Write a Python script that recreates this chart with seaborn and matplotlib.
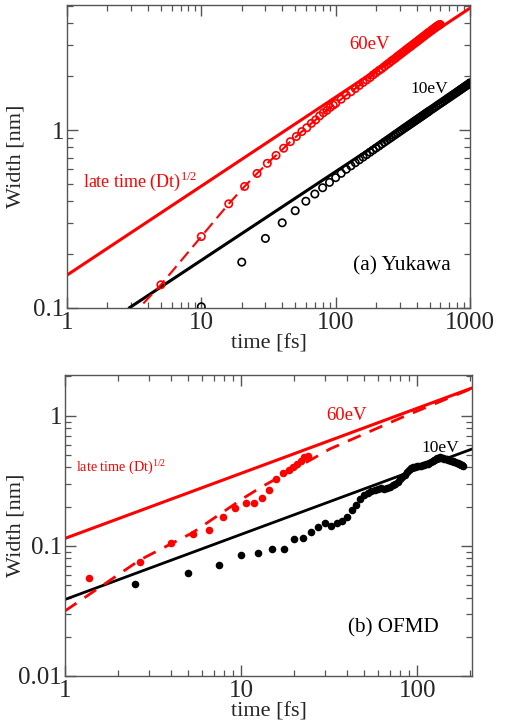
import numpy as np
import matplotlib
matplotlib.use('Agg')
import matplotlib.pyplot as plt
import matplotlib.ticker as mticker
import seaborn as sns

# --- panel (a) Yukawa ---
yuk_fit60_t = [1, 1000]
yuk_fit60_w = [0.153, 4.84]
yuk_fit10_t = [2.9, 1000]
yuk_fit10_w = [0.1, 1.84]

yuk60_t = [5, 10, 16, 21, 26, 31, 36, 41, 46, 51, 56, 61, 66, 71, 76, 81, 86, 91, 96,
           100, 110, 120, 130, 140, 150, 160, 170, 180, 190, 200, 210, 220, 230, 240,
           250, 260, 270, 280, 290, 300, 310, 320, 330, 340, 350, 360, 370, 380, 390,
           400, 410, 420, 430, 440, 450, 460, 470, 480, 490, 500, 510, 520, 530, 540,
           550, 560, 570, 580, 590, 600]
yuk60_w = [0.135, 0.252, 0.385, 0.482, 0.57, 0.65, 0.72, 0.79, 0.86, 0.92, 0.98, 1.03,
           1.09, 1.14, 1.20, 1.25, 1.29, 1.34, 1.38,
           1.41, 1.49, 1.57, 1.64, 1.71, 1.78, 1.85, 1.91, 1.97, 2.04, 2.10, 2.16, 2.21,
           2.27, 2.33, 2.38, 2.44, 2.49, 2.54, 2.60, 2.65, 2.70, 2.75, 2.80, 2.85, 2.90,
           2.94, 2.99, 3.04, 3.08, 3.13, 3.17, 3.22, 3.26, 3.31, 3.35, 3.39, 3.44, 3.48,
           3.52, 3.56, 3.60, 3.64, 3.68, 3.72, 3.76, 3.80, 3.83, 3.87, 3.90, 3.92]
yuk60_start_t = [3.7]
yuk60_start_w = [0.106]

yuk10_t = [10, 20, 30, 40, 50, 60, 70, 80, 90, 100, 110, 120, 130, 140, 150, 160, 170,
           180, 190, 200, 210, 220, 230, 240, 250, 260, 270, 280, 290, 300, 310, 320,
           330, 340, 350, 360, 370, 380, 390, 400, 410, 420, 430, 440, 450, 460, 470,
           480, 490, 500, 520, 540, 560, 580, 600, 620, 640, 660, 680, 700, 720, 740,
           760, 780, 800, 820, 840, 860, 880, 900, 920, 940, 960, 980, 1000]
yuk10_w = [0.1016, 0.181, 0.246, 0.301, 0.352, 0.398, 0.437, 0.474, 0.508, 0.540, 0.571,
           0.602, 0.629, 0.655, 0.680, 0.704, 0.727, 0.750, 0.772, 0.793, 0.813, 0.834,
           0.854, 0.873, 0.892, 0.910, 0.929, 0.947, 0.964, 0.982, 0.999, 1.016, 1.032,
           1.048, 1.064, 1.080, 1.095, 1.111, 1.126, 1.141, 1.155, 1.170, 1.184, 1.199,
           1.213, 1.227, 1.241, 1.255, 1.268, 1.282, 1.308, 1.333, 1.359, 1.384, 1.408,
           1.432, 1.455, 1.479, 1.502, 1.525, 1.547, 1.569, 1.591, 1.612, 1.634, 1.655,
           1.676, 1.697, 1.717, 1.737, 1.757, 1.777, 1.797, 1.817, 1.84]

# --- panel (b) OFMD ---
ofmd_fit60_t = [1, 205]
ofmd_fit60_w = [0.114, 1.63]
ofmd_fit10_t = [1, 205]
ofmd_fit10_w = [0.0387, 0.554]
ofmd_dash60_t = [1, 2.67, 5.3, 10.3, 13.1, 25.8, 32, 83.6, 205]
ofmd_dash60_w = [0.0316, 0.078, 0.126, 0.232, 0.284, 0.47, 0.555, 0.98, 1.62]

ofmd60_t = [1.36, 2.67, 3.98, 5.32, 6.6, 7.94, 9.25, 10.7, 11.9, 13.2, 14.5, 15.8, 17.3,
            18.6, 19.8, 20.7, 21.8, 22.8, 23.9]
ofmd60_w = [0.0567, 0.0753, 0.1054, 0.123, 0.132, 0.165, 0.194, 0.212, 0.214, 0.234,
            0.268, 0.326, 0.36, 0.382, 0.405, 0.425, 0.449, 0.479, 0.49]

ofmd10_t = [2.5, 5, 7.5, 10, 12.5, 15, 17.5, 20, 22.5, 25, 27.5, 30, 32.5, 35, 37.5, 40,
            42.5, 45, 47.5, 50, 52.5, 55, 57.5, 60, 62.5, 65, 67.5, 70, 72.5, 75, 77.5,
            80, 82.5, 85, 87.5, 90, 92.5, 95, 97.5, 100, 102.5, 105, 107.5, 110, 112.5,
            115, 117.5, 120, 122.5, 125, 127.5, 130, 132.5, 135, 137.5, 140, 142.5, 145,
            147.5, 150, 152.5, 155, 157.5, 160, 162.5, 165, 167.5, 170, 172.5, 175, 177.5,
            180, 182.5]
ofmd10_w = [0.051, 0.062, 0.071, 0.085, 0.088, 0.094, 0.094, 0.113, 0.114, 0.127, 0.140,
            0.150, 0.142, 0.150, 0.156, 0.165, 0.190, 0.205, 0.230, 0.245, 0.255, 0.262,
            0.270, 0.274, 0.276, 0.275, 0.278, 0.285, 0.292, 0.298, 0.308, 0.325, 0.335,
            0.352, 0.368, 0.383, 0.395, 0.400, 0.405, 0.408, 0.410, 0.412, 0.414, 0.418,
            0.422, 0.426, 0.432, 0.440, 0.447, 0.455, 0.462, 0.470, 0.476, 0.480, 0.476,
            0.472, 0.468, 0.466, 0.462, 0.458, 0.455, 0.452, 0.449, 0.446, 0.442, 0.438,
            0.435, 0.432, 0.428, 0.423, 0.418, 0.414, 0.412]

RED = '#ff0000'

sns.set_theme(style='ticks')
plt.rcParams['font.family'] = ['Liberation Serif', 'DejaVu Serif']
plt.rcParams['mathtext.fontset'] = 'custom'
plt.rcParams['mathtext.rm'] = 'Liberation Serif'


def style_axes(ax, xlim, ylim, yticks, ylab_x):
    ax.set_xscale('log')
    ax.set_yscale('log')
    ax.set_xlim(*xlim)
    ax.set_ylim(*ylim)
    ax.set_yticks(yticks)
    ax.xaxis.set_major_formatter(mticker.FuncFormatter(lambda v, p: '%g' % v))
    ax.yaxis.set_major_formatter(mticker.FuncFormatter(lambda v, p: '%g' % v))
    ax.yaxis.set_minor_formatter(mticker.NullFormatter())
    ax.xaxis.set_minor_formatter(mticker.NullFormatter())
    ax.tick_params(which='both', direction='in', top=True, right=True,
                   color='#555555', labelsize=18)
    ax.tick_params(which='major', length=8, width=1)
    ax.tick_params(which='minor', length=4.5, width=0.9)
    ax.tick_params(axis='x', pad=3)
    ax.tick_params(axis='y', pad=2)
    for s in ax.spines.values():
        s.set_color('#555555')
        s.set_linewidth(1.0)
    ax.set_xlabel('time [fs]', fontsize=16, labelpad=0)
    ax.set_ylabel('Width [nm]', fontsize=16)
    ax.yaxis.set_label_coords(ylab_x, 0.5)


fig = plt.figure(figsize=(5.07, 7.24), dpi=100)
ax1 = fig.add_axes([0.1321, 0.5746, 0.7949, 0.4185])
ax2 = fig.add_axes([0.1282, 0.0663, 0.8028, 0.4157])

# panel (a)
sns.lineplot(x=yuk_fit60_t, y=yuk_fit60_w, ax=ax1, color=RED, lw=2.2)
sns.lineplot(x=yuk_fit10_t, y=yuk_fit10_w, ax=ax1, color='black', lw=2.2)
sns.lineplot(x=yuk60_start_t + yuk60_t, y=yuk60_start_w + yuk60_w, ax=ax1, color=RED,
             lw=1.5, linestyle=(0, (6, 3)))
sns.scatterplot(x=yuk60_t, y=yuk60_w, ax=ax1, marker='o', s=28, facecolor='none',
                edgecolor=RED, linewidth=1.2, zorder=3)
sns.scatterplot(x=yuk10_t, y=yuk10_w, ax=ax1, marker='o', s=28, facecolor='none',
                edgecolor='black', linewidth=1.2, zorder=3)
style_axes(ax1, (1, 1000), (0.1, 5.04), [0.1, 1], -0.104)

ax1.text(0.70, 0.868, '60eV', transform=ax1.transAxes, color=RED, fontsize=13.5,
         ha='left', va='center')
ax1.text(0.853, 0.723, '10eV', transform=ax1.transAxes, color='black', fontsize=12.5,
         ha='left', va='center')
ax1.text(0.039, 0.417, 'late time (Dt)$^{1/2}$', transform=ax1.transAxes, color=RED,
         fontsize=13, ha='left', va='center')
ax1.text(0.709, 0.14, '(a) Yukawa', transform=ax1.transAxes, color='black',
         fontsize=15.5, ha='left', va='center')

# panel (b)
sns.lineplot(x=ofmd_fit60_t, y=ofmd_fit60_w, ax=ax2, color=RED, lw=2.2)
sns.lineplot(x=ofmd_fit10_t, y=ofmd_fit10_w, ax=ax2, color='black', lw=2.0)
sns.lineplot(x=ofmd_dash60_t, y=ofmd_dash60_w, ax=ax2, color=RED, lw=2.0,
             linestyle=(0, (5, 3.5)))
sns.scatterplot(x=ofmd60_t, y=ofmd60_w, ax=ax2, marker='o', s=30, color=RED,
                linewidth=0, zorder=3)
sns.scatterplot(x=ofmd10_t, y=ofmd10_w, ax=ax2, marker='o', s=30, color='black',
                linewidth=0, zorder=3)
style_axes(ax2, (1, 205), (0.01, 2.05), [0.01, 0.1, 1], -0.098)

ax2.text(0.641, 0.865, '60eV', transform=ax2.transAxes, color=RED, fontsize=13.5,
         ha='left', va='center')
ax2.text(0.876, 0.759, '10eV', transform=ax2.transAxes, color='black', fontsize=12.5,
         ha='left', va='center')
ax2.text(0.027, 0.695, 'late time (Dt)$^{1/2}$', transform=ax2.transAxes, color=RED,
         fontsize=10.2, ha='left', va='center')
ax2.text(0.696, 0.161, '(b) OFMD', transform=ax2.transAxes, color='black',
         fontsize=15.2, ha='left', va='center')

fig.savefig('out.png', dpi=100)
